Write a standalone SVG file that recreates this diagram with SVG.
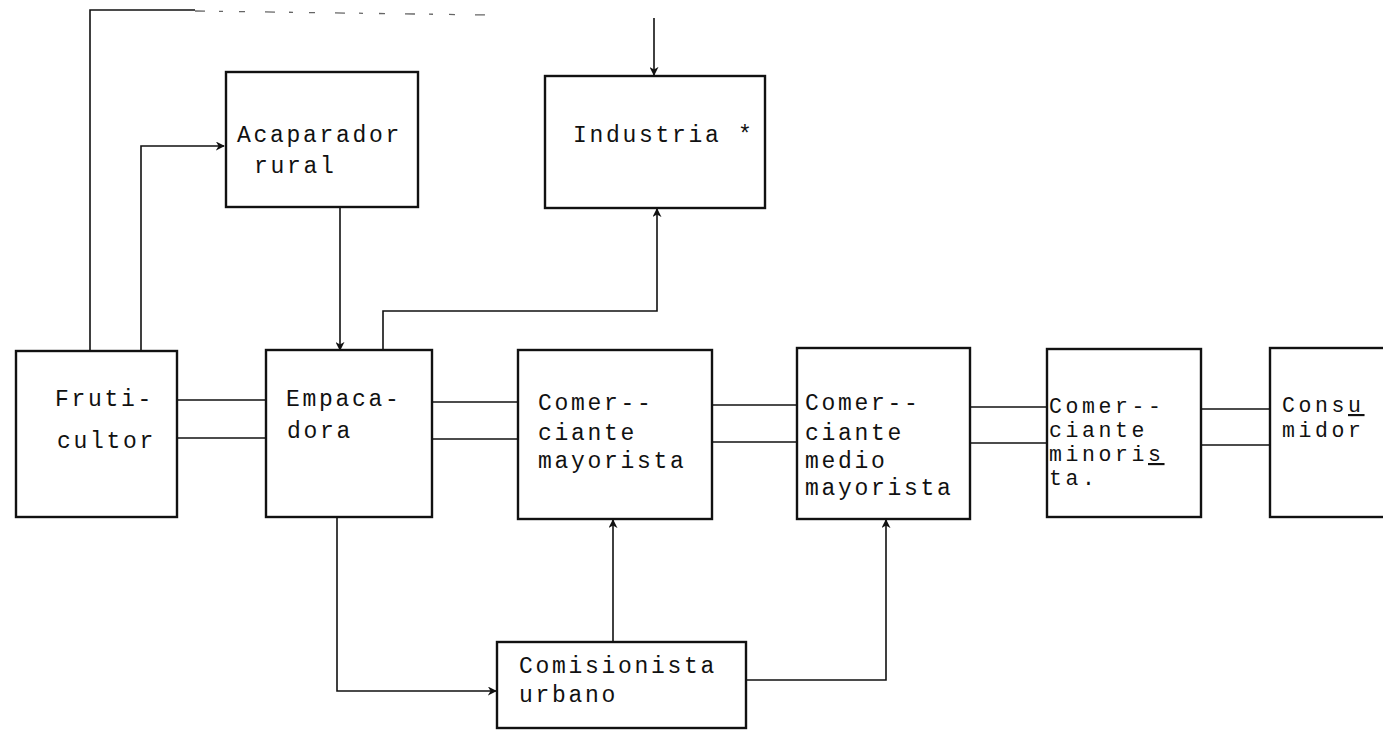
<svg xmlns="http://www.w3.org/2000/svg" width="1383" height="730" viewBox="0 0 1383 730">
<style>
.box{fill:none;stroke:#111;stroke-width:2.4}
.ln{fill:none;stroke:#111;stroke-width:1.6}
.fade{fill:none;stroke:#666;stroke-width:1.3;stroke-dasharray:10 14 4 16 6 20}
text{font-family:"Liberation Mono","Courier New",monospace;font-size:23px;letter-spacing:2.7px;fill:#111}
.t{font-size:21.5px;letter-spacing:3.6px}
.u{text-decoration:underline}
</style>
<defs>
<marker id="ah" viewBox="0 0 10 10" refX="9" refY="5" markerWidth="9" markerHeight="9" markerUnits="userSpaceOnUse" orient="auto">
<path d="M0,0 L10,5 L0,10 L3,5 z" fill="#111"/>
</marker>
</defs>
<rect width="1383" height="730" fill="#fff"/>
<g id="connectors">
<polyline class="ln" points="90,350 90,10 195,10"/>
<line class="fade" x1="195" y1="11" x2="490" y2="15"/>
<polyline class="ln" points="141,350 141,146 224,146" marker-end="url(#ah)"/>
<line class="ln" x1="654" y1="18" x2="654" y2="75" marker-end="url(#ah)"/>
<line class="ln" x1="340" y1="207" x2="340" y2="350" marker-end="url(#ah)"/>
<polyline class="ln" points="383,350 383,311 657,311 657,209" marker-end="url(#ah)"/>
<line class="ln" x1="177" y1="400" x2="266" y2="400"/>
<line class="ln" x1="177" y1="438" x2="266" y2="438"/>
<line class="ln" x1="432" y1="402" x2="518" y2="402"/>
<line class="ln" x1="432" y1="439" x2="518" y2="439"/>
<line class="ln" x1="712" y1="405" x2="797" y2="405"/>
<line class="ln" x1="712" y1="442" x2="797" y2="442"/>
<line class="ln" x1="970" y1="407" x2="1047" y2="407"/>
<line class="ln" x1="970" y1="443" x2="1047" y2="443"/>
<line class="ln" x1="1201" y1="409" x2="1270" y2="409"/>
<line class="ln" x1="1201" y1="445" x2="1270" y2="445"/>
<polyline class="ln" points="337,517 337,691 496,691" marker-end="url(#ah)"/>
<line class="ln" x1="613" y1="642" x2="613" y2="520" marker-end="url(#ah)"/>
<polyline class="ln" points="746,680 886,680 886,520" marker-end="url(#ah)"/>
</g>
<g id="acaparador">
<rect class="box" x="226" y="72" width="192" height="135"/>
<text x="237" y="142">Acaparador</text>
<text x="254" y="173">rural</text>
</g>
<g id="industria">
<rect class="box" x="545" y="76" width="220" height="132"/>
<text x="573" y="142">Industria *</text>
</g>
<g id="fruticultor">
<rect class="box" x="16" y="351" width="161" height="166"/>
<text x="55" y="406">Fruti-</text>
<text x="57" y="448">cultor</text>
</g>
<g id="empacadora">
<rect class="box" x="266" y="350" width="166" height="167"/>
<text x="286" y="406">Empaca-</text>
<text x="287" y="438">dora</text>
</g>
<g id="mayorista">
<rect class="box" x="518" y="350" width="194" height="169"/>
<text x="538" y="410">Comer--</text>
<text x="538" y="440">ciante</text>
<text x="538" y="468">mayorista</text>
</g>
<g id="medio">
<rect class="box" x="797" y="348" width="173" height="171"/>
<text x="805" y="410">Comer--</text>
<text x="805" y="440">ciante</text>
<text x="805" y="468">medio</text>
<text x="805" y="495">mayorista</text>
</g>
<g id="minorista">
<rect class="box" x="1047" y="349" width="154" height="168"/>
<text class="t" x="1049" y="413">Comer--</text>
<text class="t" x="1049" y="437">ciante</text>
<text class="t" x="1049" y="461">minori<tspan class="u">s</tspan></text>
<text class="t" x="1049" y="485">ta.</text>
</g>
<g id="consumidor">
<rect class="box" x="1270" y="348" width="130" height="169"/>
<text class="t" x="1282" y="412">Cons<tspan class="u">u</tspan></text>
<text class="t" x="1282" y="437">midor</text>
</g>
<g id="comisionista">
<rect class="box" x="497" y="642" width="249" height="86"/>
<text x="519" y="673">Comisionista</text>
<text x="519" y="702">urbano</text>
</g>
</svg>
